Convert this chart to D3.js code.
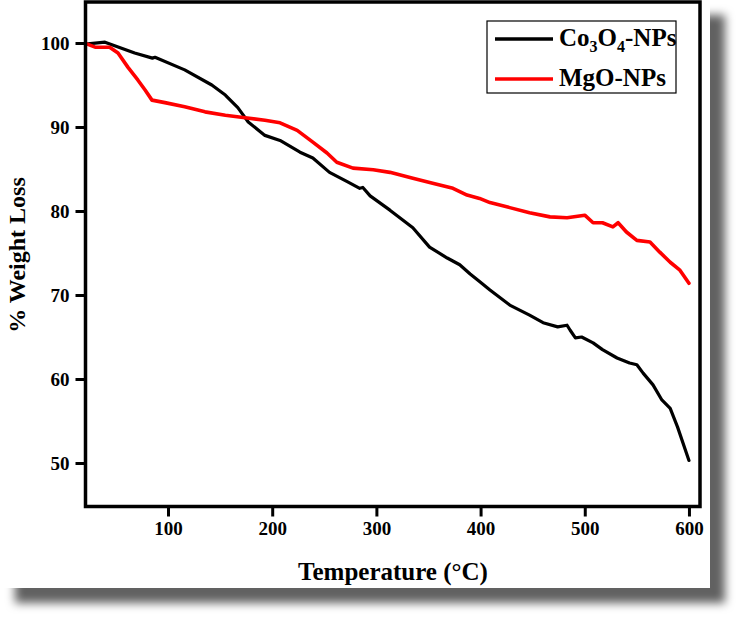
<!DOCTYPE html>
<html>
<head>
<meta charset="utf-8">
<script src="https://cdn.jsdelivr.net/npm/d3@7"></script>
<style>
  body { margin: 0; background: #fff; }
  text { font-family: "Liberation Serif", "Times New Roman", serif; font-weight: bold; fill: #000; }
</style>
</head>
<body>
<div class="canvas"></div>
<script>
// data: temperature (°C) and % weight
const co3o4Temp = [23, 39.5, 68, 85, 87.5, 116, 142, 155, 167, 177, 193, 207.5, 226.7, 239, 255, 272, 284, 287, 294, 313, 335, 351, 368, 380, 390, 399, 409, 428, 447, 460, 474, 483, 486, 491, 497, 508, 517, 531, 543, 550, 556, 565.5, 574, 582, 589, 600]
const co3o4Weight = [99.9, 100.1, 98.8, 98.2, 98.3, 96.8, 95.0, 93.8, 92.3, 90.6, 89.0, 88.4, 87.0, 86.3, 84.6, 83.5, 82.7, 82.8, 81.8, 80.1, 78.0, 75.7, 74.4, 73.6, 72.5, 71.6, 70.6, 68.8, 67.6, 66.7, 66.2, 66.4, 65.8, 64.9, 65.0, 64.3, 63.5, 62.5, 61.9, 61.7, 60.7, 59.3, 57.5, 56.5, 54.3, 50.3]

const mgoTemp = [22, 30, 44, 52, 61.6, 71, 78, 84.6, 97, 116, 135.5, 155, 174, 193, 207.5, 224, 239, 252.6, 262, 277.5, 297, 313, 335, 354, 373.5, 387, 399, 409, 428, 447, 466.6, 483, 500, 508, 517, 527, 532, 540, 550, 562.6, 572, 582, 591, 600]
const mgoWeight = [99.9, 99.5, 99.5, 98.8, 97.1, 95.6, 94.4, 93.2, 92.9, 92.4, 91.8, 91.4, 91.1, 90.8, 90.5, 89.6, 88.2, 86.9, 85.8, 85.1, 84.9, 84.6, 83.9, 83.3, 82.7, 81.9, 81.5, 81.0, 80.4, 79.8, 79.3, 79.2, 79.5, 78.6, 78.6, 78.1, 78.6, 77.5, 76.5, 76.3, 75.1, 73.9, 73.0, 71.4]

const xTicks = [100, 200, 300, 400, 500, 600]
const yTicks = [50, 60, 70, 80, 90, 100]

const series = [
  { name: 'Co3O4', temp: co3o4Temp, weight: co3o4Weight, color: '#000000', width: 3.2 },
  { name: 'MgO', temp: mgoTemp, weight: mgoWeight, color: '#ff0000', width: 3.6 },
]

// chart dimensions
const dimensions = {
  margin: { top: 2, left: 85.5 },
  chartWidth: 738,
  chartHeight: 620,
  graphWidth: 614.5,
  graphHeight: 504.5,
}

const svg = d3
  .select('.canvas')
  .append('svg')
  .attr('width', dimensions.chartWidth)
  .attr('height', dimensions.chartHeight)

// drop shadow behind the white sheet
const filter = svg.append('defs').append('filter')
  .attr('id', 'shadow')
  .attr('x', '-5%').attr('y', '-5%')
  .attr('width', '115%').attr('height', '115%')
filter.append('feDropShadow')
  .attr('dx', 15).attr('dy', 15)
  .attr('stdDeviation', 5)
  .attr('flood-color', '#000')
  .attr('flood-opacity', 0.62)

svg.append('rect')
  .attr('x', 0).attr('y', 0)
  .attr('width', 710).attr('height', 588)
  .attr('fill', '#fff')
  .attr('filter', 'url(#shadow)')

const graph = svg
  .append('g')
  .attr('transform', `translate(${dimensions.margin.left}, ${dimensions.margin.top})`)

// scales
const x = d3.scaleLinear().domain([20.8, 610.6]).range([0, dimensions.graphWidth])
const y = d3.scaleLinear().domain([44.82, 104.88]).range([dimensions.graphHeight, 0])

// axes
const xAxis = d3.axisBottom(x).tickValues(xTicks).tickSize(10).tickSizeOuter(0).tickPadding(5)
const yAxis = d3.axisLeft(y).tickValues(yTicks).tickSize(10).tickSizeOuter(0).tickPadding(6)

const xAxisGroup = graph.append('g')
  .attr('transform', `translate(0, ${dimensions.graphHeight})`)
  .call(xAxis)
const yAxisGroup = graph.append('g').call(yAxis)

;[xAxisGroup, yAxisGroup].forEach((g) => {
  g.select('.domain').remove()
  g.selectAll('line').attr('stroke', '#000').attr('stroke-width', 3)
  g.selectAll('text')
    .style('font-family', '"Liberation Serif", serif')
    .style('font-weight', 'bold')
    .style('font-size', '19px')
    .attr('fill', '#000')
})

// lines
const line = d3.line()
  .x((d) => x(d[0]))
  .y((d) => y(d[1]))

series.forEach((s) => {
  graph.append('path')
    .datum(s.temp.map((t, i) => [t, s.weight[i]]))
    .attr('fill', 'none')
    .attr('stroke', s.color)
    .attr('stroke-width', s.width)
    .attr('stroke-linejoin', 'round')
    .attr('stroke-linecap', 'round')
    .attr('d', line)
})

// frame
graph.append('rect')
  .attr('width', dimensions.graphWidth)
  .attr('height', dimensions.graphHeight)
  .attr('fill', 'none')
  .attr('stroke', '#000')
  .attr('stroke-width', 3.5)

// legend
const legend = svg.append('g').attr('transform', 'translate(487, 21)')
legend.append('rect')
  .attr('width', 189).attr('height', 72)
  .attr('fill', '#fff')
  .attr('stroke', '#000')
  .attr('stroke-width', 1.2)

series.forEach((s, i) => {
  const yy = 18 + i * 40
  legend.append('line')
    .attr('x1', 8).attr('x2', 66)
    .attr('y1', yy).attr('y2', yy)
    .attr('stroke', s.color)
    .attr('stroke-width', 3.5)
  const label = legend.append('text')
    .attr('x', 72).attr('y', yy + 7)
    .style('font-size', '25px')
  if (s.name === 'Co3O4') {
    label.append('tspan').text('Co')
    label.append('tspan').attr('dy', 6).style('font-size', '16px').text('3')
    label.append('tspan').attr('dy', -6).text('O')
    label.append('tspan').attr('dy', 6).style('font-size', '16px').text('4')
    label.append('tspan').attr('dy', -6).text('-NPs')
  } else {
    label.text('MgO-NPs')
  }
})

// axis titles
svg.append('text')
  .attr('x', 393).attr('y', 580)
  .attr('text-anchor', 'middle')
  .style('font-size', '25px')
  .text('Temperature (°C)')

svg.append('text')
  .attr('transform', 'translate(25, 255) rotate(-90)')
  .attr('text-anchor', 'middle')
  .style('font-size', '24px')
  .text('% Weight Loss')
</script>
</body>
</html>
